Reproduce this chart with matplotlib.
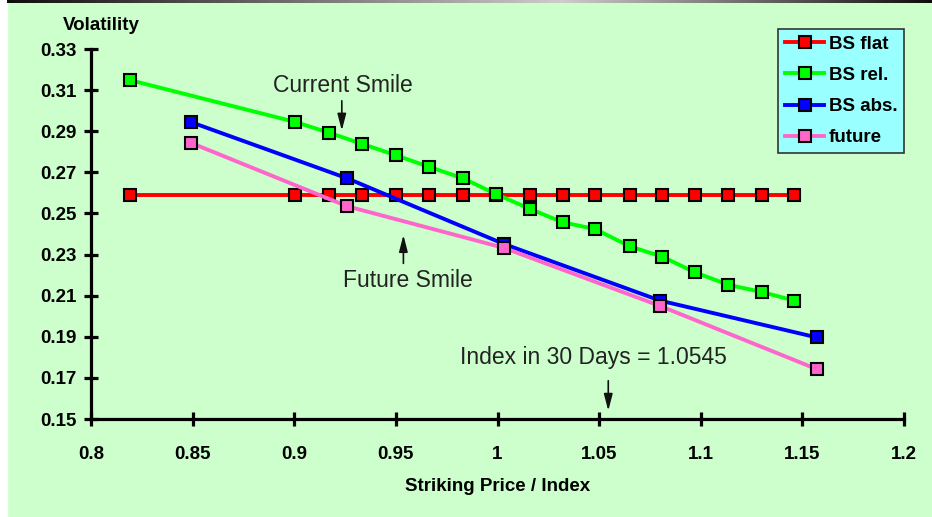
import numpy as np
import matplotlib
matplotlib.use('Agg')
import matplotlib.pyplot as plt
from matplotlib.patches import Rectangle

plt.rcParams['font.family'] = ['Liberation Sans', 'DejaVu Sans']

# strike / index grid for the BS flat and BS rel. series
grid_x = [0.819, 0.9005, 0.917, 0.9335, 0.950, 0.9665, 0.983, 0.9995, 1.016,
          1.032, 1.048, 1.065, 1.081, 1.097, 1.1135, 1.130, 1.146]
bs_flat = [0.2588] * 17
bs_rel = [0.3149, 0.2945, 0.2893, 0.2838, 0.2783, 0.2726, 0.2671, 0.2593, 0.2522,
          0.2457, 0.2424, 0.2340, 0.2290, 0.2214, 0.2153, 0.2118, 0.2076]

# coarser grid for the BS abs. and future series
coarse_x = [0.849, 0.926, 1.003, 1.080, 1.157]
bs_abs = [0.2945, 0.2671, 0.2352, 0.2076, 0.1897]
future = [0.2844, 0.2535, 0.2333, 0.2050, 0.1743]

x_ticks = [0.8, 0.85, 0.9, 0.95, 1.0, 1.05, 1.1, 1.15, 1.2]
x_tick_labels = ['0.8', '0.85', '0.9', '0.95', '1', '1.05', '1.1', '1.15', '1.2']
y_ticks = [0.15, 0.17, 0.19, 0.21, 0.23, 0.25, 0.27, 0.29, 0.31, 0.33]

index_30d = 1.0545

W, H = 932, 517
fig = plt.figure(figsize=(W / 100, H / 100), dpi=100)
fig.patch.set_facecolor('#CCFFCC')
fig.add_artist(Rectangle((0, 0), 7 / W, 1, transform=fig.transFigure,
                         color='white', zorder=0))

# thin gradient strip at the very top
gax = fig.add_axes([7 / W, 1 - 2.7 / H, 1 - 7 / W, 2.7 / H])
ramp = np.interp(np.linspace(0, 1, 400), [0, 0.6, 1], [0.05, 0.8, 0.05])
gax.imshow(ramp[None, :], cmap='gray', vmin=0, vmax=1, aspect='auto')
gax.axis('off')

ax = fig.add_axes([91 / W, 1 - 419 / H, (904 - 91) / W, (419 - 49) / H])
ax.set_facecolor('none')

mk = dict(marker='s', markersize=8, markeredgecolor='black', markeredgewidth=1.5,
          linewidth=2.8)
ax.plot(grid_x, bs_flat, color='#FF0000', markerfacecolor='#FF0000', label='BS flat', **mk)
ax.plot(grid_x, bs_rel, color='#00FF00', markerfacecolor='#00FF00', label='BS rel.', **mk)
ax.plot(coarse_x, bs_abs, color='#0000FF', markerfacecolor='#0000FF', label='BS abs.', **mk)
ax.plot(coarse_x, future, color='#FF66CC', markerfacecolor='#FF66CC', label='future', **mk)

ax.set_xlim(0.8, 1.2)
ax.set_ylim(0.15, 0.33)
ax.set_xticks(x_ticks)
ax.set_xticklabels(x_tick_labels)
ax.set_yticks(y_ticks)
ax.set_yticklabels(['%.2f' % v for v in y_ticks])

for s in ['top', 'right']:
    ax.spines[s].set_visible(False)
for s in ['left', 'bottom']:
    ax.spines[s].set_linewidth(2.3)
    ax.spines[s].set_capstyle('projecting')
ax.tick_params(axis='both', direction='inout', length=10, width=2.3,
               labelsize=13.5)
ax.tick_params(axis='x', pad=14.5)
ax.tick_params(axis='y', pad=5)
for lab in ax.get_xticklabels() + ax.get_yticklabels():
    lab.set_fontweight('bold')

ax.set_xlabel('Striking Price / Index', fontsize=13.5, fontweight='bold', labelpad=11)
fig.text(101 / W, 1 - 25 / H, 'Volatility', fontsize=13.5, fontweight='bold',
         ha='center', va='center')

# annotations
arrow = dict(arrowstyle='-|>,head_length=0.5,head_width=0.13', color='#111111',
             lw=1.2, mutation_scale=20, shrinkA=0, shrinkB=0)
ax.annotate('', xy=(0.9234, 0.2903), xytext=(0.9234, 0.3048), arrowprops=arrow)
ax.text(0.9238, 0.3120, 'Current Smile', fontsize=16.5, color='#222222',
        ha='center', va='center')
ax.annotate('', xy=(0.9537, 0.2395), xytext=(0.9537, 0.2257), arrowprops=arrow)
ax.text(0.9559, 0.2176, 'Future Smile', fontsize=16.5, color='#222222',
        ha='center', va='center')
ax.annotate('', xy=(index_30d, 0.1540), xytext=(index_30d, 0.1686), arrowprops=arrow)
ax.text(1.0473, 0.1797, 'Index in 30 Days = 1.0545', fontsize=16.5, color='#222222',
        ha='center', va='center')

leg = ax.legend(loc='upper right', bbox_to_anchor=(904.3 / W, 1 - 29 / H),
                bbox_transform=fig.transFigure, fancybox=False, framealpha=1,
                facecolor='#99FFFF', edgecolor='#333333',
                prop={'weight': 'bold', 'size': 13.5},
                handlelength=2.1, handletextpad=0.25, labelspacing=0.75,
                borderpad=0.35, borderaxespad=0)
leg.get_frame().set_linewidth(1.2)

fig.savefig('out.png', dpi=100, facecolor=fig.get_facecolor())
